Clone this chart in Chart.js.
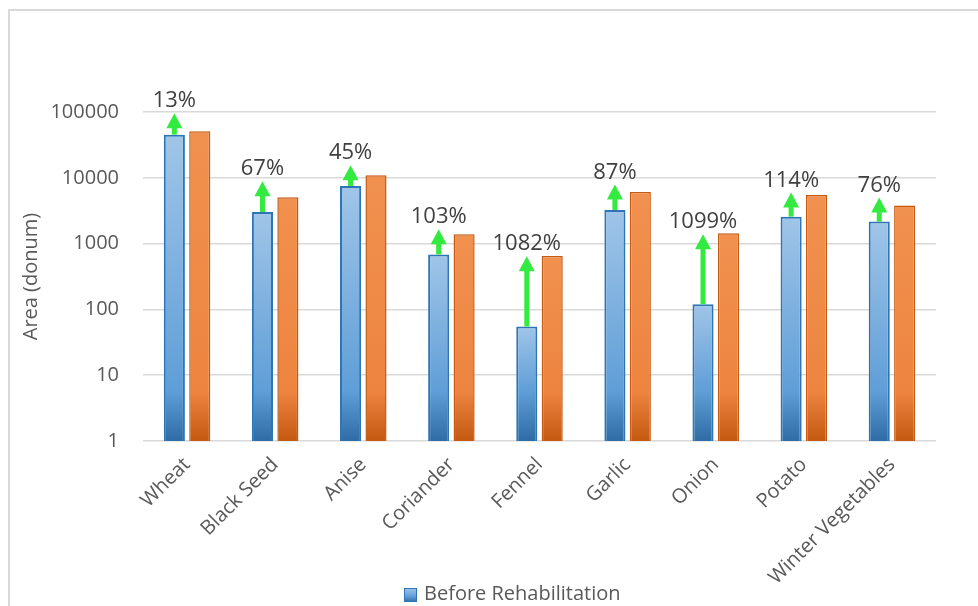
<!DOCTYPE html>
<html>
<head>
<meta charset="utf-8">
<script src="https://cdn.jsdelivr.net/npm/chart.js@4/dist/chart.umd.min.js"></script>
<style>
  html, body { margin: 0; padding: 0; background: #ffffff; }
  #wrap { width: 978px; height: 606px; overflow: hidden; }
</style>
</head>
<body>
<div id="wrap"><canvas id="chart" width="978" height="606"></canvas></div>
<script>
// Cultivated area per crop, before and after rehabilitation (donum)
const crops = ['Wheat', 'Black Seed', 'Anise', 'Coriander', 'Fennel', 'Garlic', 'Onion', 'Potato', 'Winter Vegetables'];
const beforeArea = [45300, 3020, 7530, 684, 55, 3243, 120, 2570, 2158];
const afterArea = [51200, 5050, 10920, 1389, 650, 6065, 1439, 5500, 3800];
// Level (in donum) that each growth arrow reaches
const arrowTips = [95500, 8850, 15500, 1650, 641, 7880, 1384, 5960, 5000];
const yTicks = [1, 10, 100, 1000, 10000, 100000];

const FONT = "'Open Sans', 'Noto Sans', sans-serif";

function barGradient(ctx, top, bottom, stops) {
  const g = ctx.createLinearGradient(0, top, 0, bottom);
  const h = Math.max(bottom - top, 1);
  const mid = Math.max(0.05, 1 - 50 / h);
  g.addColorStop(0, stops[0]);
  g.addColorStop(mid, stops[1]);
  g.addColorStop(1, stops[2]);
  return g;
}

function fillFor(stops, fallback) {
  return function (context) {
    const chart = context.chart;
    if (!chart.chartArea || context.type !== 'data') return fallback;
    const y = chart.scales.y;
    const v = context.raw;
    const top = y.getPixelForValue(v);
    const bottom = y.getPixelForValue(1);
    return barGradient(chart.ctx, top, bottom, stops);
  };
}

const blueStops = ['#a0c5e8', '#5f9ed7', '#2f6ca6'];
const orangeStops = ['#f1914f', '#ed8440', '#c45911'];

// Frame line around the chart
const framePlugin = {
  id: 'frame',
  beforeDraw(chart) {
    const c = chart.ctx;
    c.save();
    c.strokeStyle = '#d9d9d9';
    c.lineWidth = 2;
    c.beginPath();
    c.moveTo(9, 700);
    c.lineTo(9, 10);
    c.lineTo(1100, 10);
    c.stroke();
    c.restore();
  }
};

// Green growth arrows with percentage change labels
const arrowPlugin = {
  id: 'growthArrows',
  afterDatasetsDraw(chart) {
    const c = chart.ctx;
    const y = chart.scales.y;
    const bars = chart.getDatasetMeta(0).data;
    c.save();
    bars.forEach((bar, i) => {
      const x = bar.x;
      const base = bar.y;
      const tip = y.getPixelForValue(arrowTips[i]);
      const headH = 15, headW = 16, shaftW = 5;
      c.fillStyle = '#33ea40';
      c.fillRect(x - shaftW / 2, tip + headH - 0.5, shaftW, base - tip - headH + 0.5);
      c.beginPath();
      c.moveTo(x, tip);
      c.lineTo(x + headW / 2, tip + headH);
      c.lineTo(x - headW / 2, tip + headH);
      c.closePath();
      c.fill();
      const pct = Math.round((afterArea[i] / beforeArea[i] - 1) * 100);
      c.fillStyle = '#404040';
      c.font = '22px ' + FONT;
      c.textAlign = 'center';
      c.textBaseline = 'alphabetic';
      c.fillText(pct + '%', x, tip - 6);
    });
    c.restore();
  }
};

// Legend row at the bottom
const legendPlugin = {
  id: 'bottomLegend',
  afterDraw(chart) {
    const c = chart.ctx;
    c.save();
    const g = c.createLinearGradient(0, 588, 0, 602);
    g.addColorStop(0, blueStops[0]);
    g.addColorStop(0.6, blueStops[1]);
    g.addColorStop(1, blueStops[2]);
    c.fillStyle = g;
    c.fillRect(404, 588, 13, 14);
    c.strokeStyle = '#2e75b6';
    c.lineWidth = 1;
    c.strokeRect(404.5, 588.5, 12, 13);
    c.fillStyle = '#595959';
    c.font = '20px ' + FONT;
    c.textAlign = 'left';
    c.textBaseline = 'alphabetic';
    c.fillText(chart.data.datasets[0].label, 424, 600);
    c.restore();
  }
};

new Chart(document.getElementById('chart'), {
  type: 'bar',
  data: {
    labels: crops,
    datasets: [
      {
        label: 'Before Rehabilitation',
        data: beforeArea,
        backgroundColor: fillFor(blueStops, '#5b9bd5'),
        borderColor: '#2e75b6',
        borderWidth: 2,
        categoryPercentage: 0.577,
        barPercentage: 0.83
      },
      {
        label: 'After Rehabilitation',
        data: afterArea,
        backgroundColor: fillFor(orangeStops, '#ed7d31'),
        borderColor: '#c55a11',
        borderWidth: 1.5,
        categoryPercentage: 0.577,
        barPercentage: 0.83
      }
    ]
  },
  options: {
    responsive: false,
    animation: false,
    layout: { padding: { top: 112, right: 42, left: 0, bottom: 0 } },
    plugins: {
      legend: { display: false },
      tooltip: { enabled: false }
    },
    scales: {
      x: {
        grid: { display: false },
        border: { display: false },
        ticks: {
          color: '#595959',
          font: { family: FONT, size: 20 },
          minRotation: 45,
          maxRotation: 45,
          padding: 4
        },
        afterFit(scale) { scale.height = 165; }
      },
      y: {
        type: 'logarithmic',
        min: 1,
        max: 100000,
        border: { display: false },
        grid: { color: '#d9d9d9', lineWidth: 1.5, drawTicks: false },
        ticks: {
          color: '#595959',
          font: { family: FONT, size: 20 },
          padding: 24,
          callback: (v) => String(v)
        },
        afterBuildTicks(scale) {
          scale.ticks = yTicks.map(v => ({ value: v }));
        },
        title: {
          display: true,
          text: 'Area (donum)',
          color: '#595959',
          font: { family: FONT, size: 20 },
          padding: { top: 19, bottom: 0 }
        },
        afterFit(scale) { scale.width = 143; }
      }
    }
  },
  plugins: [framePlugin, arrowPlugin, legendPlugin]
});
</script>
</body>
</html>
